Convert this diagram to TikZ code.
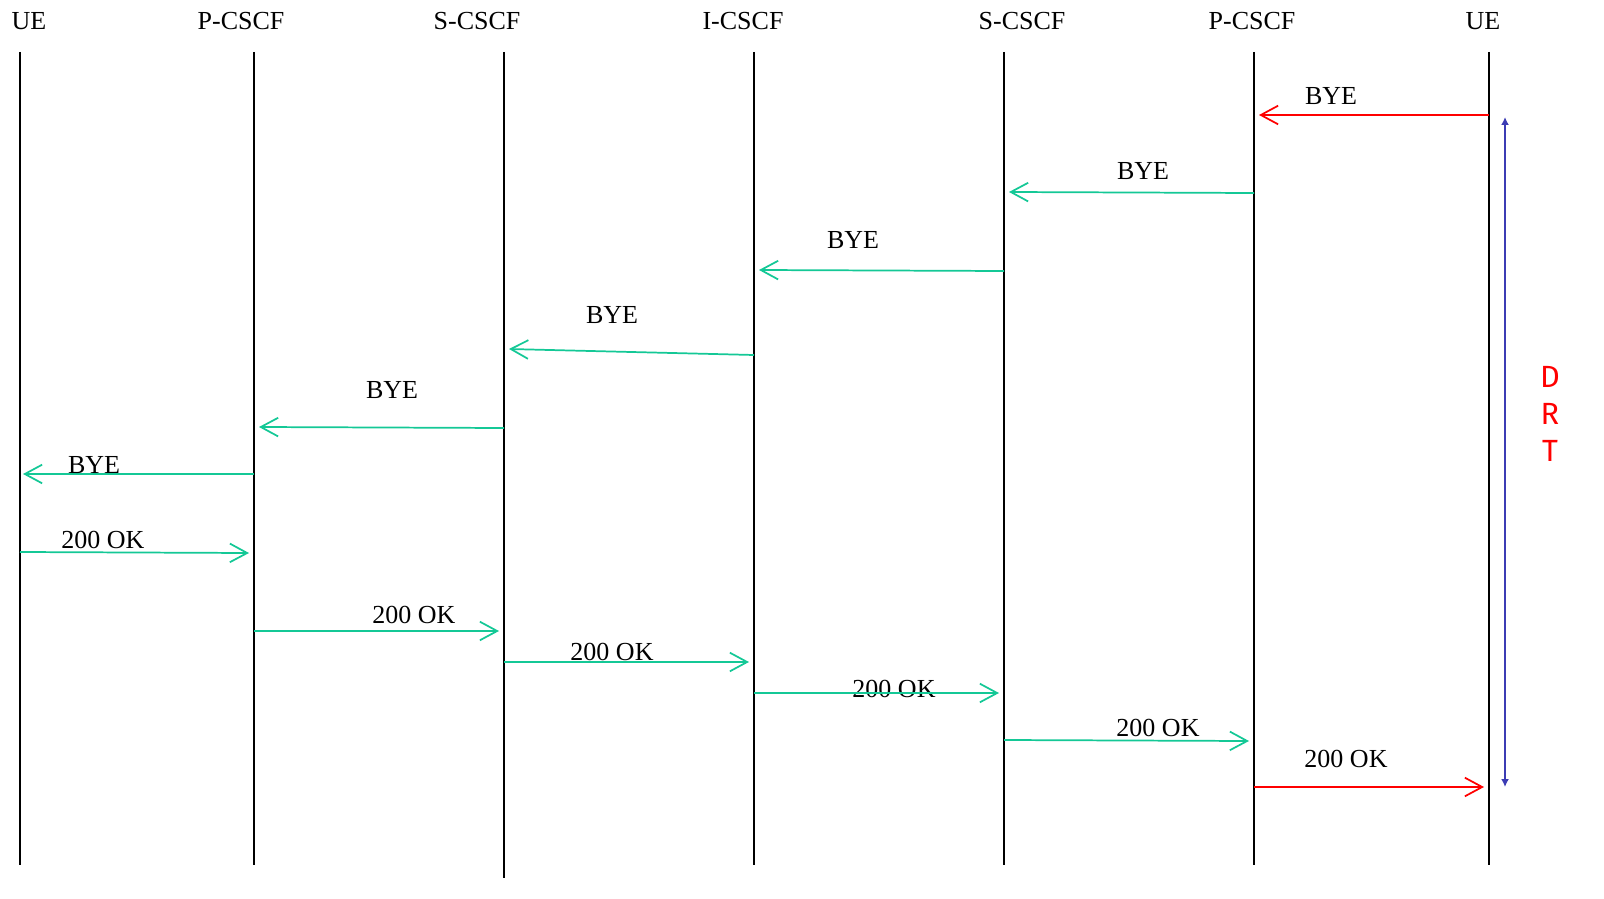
\documentclass[tikz,border=0pt]{standalone}
\usepackage{fontspec}
\setmainfont{Liberation Serif}
\newfontfamily\drtfont{Fira Sans}
\usetikzlibrary{arrows.meta}
\definecolor{msggreen}{RGB}{20,200,150}
\definecolor{msgred}{RGB}{255,0,0}
\definecolor{drtblue}{RGB}{60,60,180}
\tikzset{
  lifeline/.style={line width=1.5pt, black},
  hdr/.style={font=\fontsize{19.5}{22}\selectfont, inner sep=0pt},
  lbl/.style={font=\fontsize{19.5}{22}\selectfont, inner sep=0pt},
  msg/.style={line width=1.3pt, -{Straight Barb[length=13pt,width=14pt,line width=1.3pt]}},
  gmsg/.style={msg, msggreen},
  rmsg/.style={msg, msgred},
  drt/.style={drtblue, line width=1.8pt, {Latex[length=6pt,width=6pt]}-{Latex[length=6pt,width=6pt]}}
}
\begin{document}
\begin{tikzpicture}[x=0.75pt,y=-0.75pt]
\useasboundingbox (0,0) rectangle (1604,899);
% headers
\node[hdr] (h1) at (29,21) {UE};
\node[hdr] (h2) at (241,21) {P-CSCF};
\node[hdr] (h3) at (477,21) {S-CSCF};
\node[hdr] (h4) at (743,21) {I-CSCF};
\node[hdr] (h5) at (1022,21) {S-CSCF};
\node[hdr] (h6) at (1252,21) {P-CSCF};
\node[hdr] (h7) at (1483,21) {UE};
% lifelines
\coordinate (t1) at (20,52);   \coordinate (b1) at (20,865);
\coordinate (t2) at (254,52);  \coordinate (b2) at (254,865);
\coordinate (t3) at (504,52);  \coordinate (b3) at (504,878);
\coordinate (t4) at (754,52);  \coordinate (b4) at (754,865);
\coordinate (t5) at (1004,52); \coordinate (b5) at (1004,865);
\coordinate (t6) at (1254,52); \coordinate (b6) at (1254,865);
\coordinate (t7) at (1489,52); \coordinate (b7) at (1489,865);
\foreach \i in {1,...,7} {\draw[lifeline] (t\i) -- (b\i);}
% BYE messages
\coordinate (m1s) at (1489,115); \coordinate (m1e) at (1259,115);
\draw[rmsg] (m1s) -- (m1e);
\node[lbl] (l1) at (1331,96) {BYE};
\coordinate (m2s) at (1254,193); \coordinate (m2e) at (1009,192);
\draw[gmsg] (m2s) -- (m2e);
\node[lbl] (l2) at (1143,171) {BYE};
\coordinate (m3s) at (1004,271); \coordinate (m3e) at (759,270);
\draw[gmsg] (m3s) -- (m3e);
\node[lbl] (l3) at (853,240) {BYE};
\coordinate (m4s) at (754,355); \coordinate (m4e) at (509,349);
\draw[gmsg] (m4s) -- (m4e);
\node[lbl] (l4) at (612,315) {BYE};
\coordinate (m5s) at (504,428); \coordinate (m5e) at (259,427);
\draw[gmsg] (m5s) -- (m5e);
\node[lbl] (l5) at (392,390) {BYE};
\coordinate (m6s) at (254,474); \coordinate (m6e) at (23,474);
\draw[gmsg] (m6s) -- (m6e);
\node[lbl] (l6) at (94,465) {BYE};
% 200 OK messages
\coordinate (m7s) at (20,552); \coordinate (m7e) at (249,553);
\draw[gmsg] (m7s) -- (m7e);
\node[lbl] (l7) at (103,540) {200 OK};
\coordinate (m8s) at (254,631); \coordinate (m8e) at (499,631);
\draw[gmsg] (m8s) -- (m8e);
\node[lbl] (l8) at (414,615) {200 OK};
\coordinate (m9s) at (504,662); \coordinate (m9e) at (749,662);
\draw[gmsg] (m9s) -- (m9e);
\node[lbl] (l9) at (612,652) {200 OK};
\node[lbl] (l10) at (894,689) {200 OK};
\coordinate (m10s) at (754,693); \coordinate (m10e) at (999,693);
\draw[gmsg] (m10s) -- (m10e);
\coordinate (m11s) at (1004,740); \coordinate (m11e) at (1249,741);
\draw[gmsg] (m11s) -- (m11e);
\node[lbl] (l11) at (1158,728) {200 OK};
\coordinate (m12s) at (1254,787); \coordinate (m12e) at (1484,787);
\draw[rmsg] (m12s) -- (m12e);
\node[lbl] (l12) at (1346,759) {200 OK};
% DRT
\coordinate (d1) at (1505,117); \coordinate (d2) at (1505,787);
\draw[drt] (d1) -- (d2);
\node[text=msgred, font=\drtfont\fontsize{23}{27.75}\selectfont, align=center, inner sep=0pt] (drt) at (1550,414) {D\\R\\T};
\end{tikzpicture}
\end{document}
